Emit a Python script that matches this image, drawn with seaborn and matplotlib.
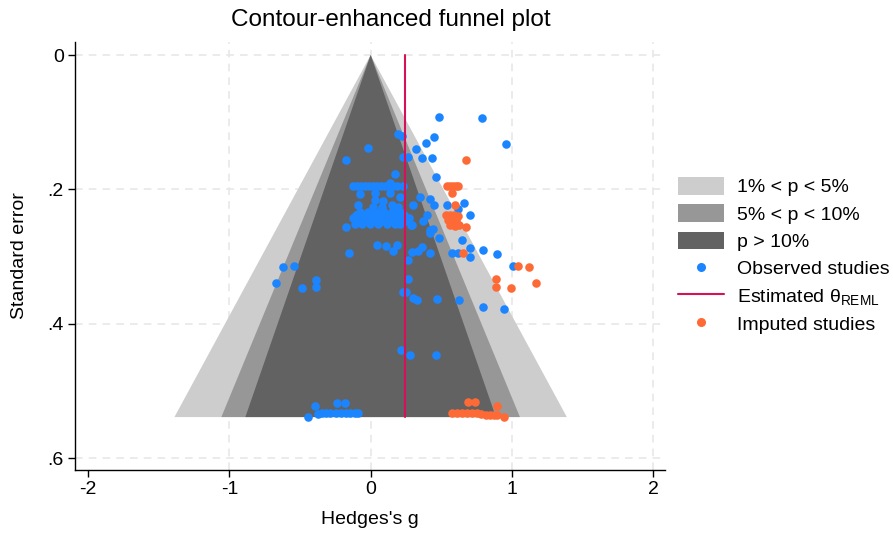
import numpy as np
import pandas as pd
import matplotlib
matplotlib.use("Agg")
import matplotlib.pyplot as plt
from matplotlib.patches import Patch
from matplotlib.lines import Line2D
import seaborn as sns

# Observed studies: effect size (Hedges's g) and standard error
obs_g = [
    0.485, 0.789, 0.959, 0.450, 0.393, 0.195, 0.223, -0.018, -0.173, 0.322,
    0.230, 0.265, 0.365, 0.435, 0.173, 0.464, 0.138, 0.230,
    -0.124, -0.096, -0.067, -0.039, -0.011, 0.018, 0.046, 0.074, 0.103, 0.131, 0.159, 0.188,
    -0.074, 0.032, 0.138, 0.209, 0.350, 0.032, 0.088,
    -0.088, 0.018, 0.081, 0.152, 0.195, 0.301,
    -0.074, -0.018, 0.039, 0.096, 0.152, 0.209,
    -0.103, -0.046, 0.011, 0.067, 0.124, 0.181, 0.237,
    -0.124, -0.067, -0.011, 0.046, 0.103, 0.159, 0.216, 0.273,
    -0.088, -0.032, 0.025, 0.081, 0.138, 0.195, 0.251,
    -0.110, -0.060, -0.004, 0.053, 0.117, 0.173, 0.209,
    -0.173, 0.294, 0.421,
    0.542, 0.662, 0.619, 0.704, 0.421, 0.450, 0.400, 0.372, 0.287, 0.442, 0.421, 0.485,
    0.648, 0.577, 0.619, 0.704, 0.704, 0.796, 0.896,
    0.046, 0.110, 0.188, 0.159, 0.294, 0.336, 0.365, 0.421, -0.152, 0.265, 1.009,
    0.265, 0.230, 0.251, 0.301, 0.329, 0.471, 0.627, 0.796, 0.945,
    -0.619, -0.542, -0.669, -0.485, -0.386, -0.386,
    0.216, 0.280, 0.464,
    -0.442, -0.393, -0.372, -0.343, -0.315, -0.287, -0.244, -0.209, -0.173, -0.145,
    -0.110, -0.088, -0.237, -0.181,
]
obs_se = [
    0.092, 0.094, 0.132, 0.122, 0.131, 0.118, 0.121, 0.138, 0.156, 0.140,
    0.152, 0.152, 0.153, 0.153, 0.177, 0.182, 0.191, 0.195,
    0.195, 0.195, 0.195, 0.195, 0.195, 0.195, 0.195, 0.195, 0.195, 0.195, 0.195, 0.195,
    0.207, 0.205, 0.205, 0.211, 0.211, 0.216, 0.217,
    0.223, 0.226, 0.226, 0.223, 0.226, 0.223,
    0.234, 0.234, 0.234, 0.234, 0.234, 0.234,
    0.238, 0.238, 0.238, 0.238, 0.238, 0.238, 0.238,
    0.243, 0.243, 0.243, 0.243, 0.243, 0.243, 0.243, 0.243,
    0.247, 0.247, 0.247, 0.247, 0.247, 0.247, 0.247,
    0.252, 0.252, 0.252, 0.252, 0.252, 0.252, 0.252,
    0.256, 0.253, 0.261,
    0.223, 0.220, 0.229, 0.238, 0.214, 0.223, 0.238, 0.247, 0.253, 0.259, 0.265, 0.272,
    0.275, 0.295, 0.295, 0.287, 0.301, 0.290, 0.296,
    0.283, 0.284, 0.283, 0.292, 0.293, 0.292, 0.286, 0.295, 0.295, 0.305, 0.314,
    0.333, 0.353, 0.353, 0.362, 0.365, 0.363, 0.365, 0.375, 0.378,
    0.316, 0.314, 0.339, 0.347, 0.335, 0.345,
    0.439, 0.447, 0.447,
    0.539, 0.523, 0.534, 0.533, 0.533, 0.533, 0.533, 0.533, 0.533, 0.533,
    0.533, 0.533, 0.518, 0.518,
]

# Studies imputed by trim-and-fill
imp_g = [
    0.676, 0.542, 0.563, 0.584, 0.605, 0.619, 0.577, 0.598,
    0.535, 0.563, 0.591, 0.619, 0.549, 0.577, 0.605, 0.563, 0.598, 0.627, 0.676,
    0.655, 1.044, 1.122, 0.888, 0.888, 0.995, 1.172,
    0.577, 0.612, 0.648, 0.683, 0.718, 0.754, 0.782, 0.818, 0.846, 0.874, 0.896,
    0.945, 0.690, 0.740, 0.896,
]
imp_se = [
    0.156, 0.195, 0.195, 0.195, 0.195, 0.195, 0.205, 0.223,
    0.238, 0.238, 0.238, 0.240, 0.246, 0.247, 0.246, 0.253, 0.255, 0.253, 0.256,
    0.295, 0.314, 0.316, 0.333, 0.345, 0.347, 0.339,
    0.533, 0.533, 0.533, 0.533, 0.533, 0.533, 0.534, 0.536, 0.536, 0.536, 0.536,
    0.539, 0.517, 0.517, 0.523,
]

theta_reml = 0.244

# Significance contours (two-sided z critical values) and their shading
contour_z = [2.576, 1.960, 1.645]
contour_colors = ["#cdcdcd", "#979797", "#626262"]
contour_labels = ["1% < p < 5%", "5% < p < 10%", "p > 10%"]

x_ticks = [-2, -1, 0, 1, 2]
x_ticklabels = ["-2", "-1", "0", "1", "2"]
y_ticks = [0, 0.2, 0.4, 0.6]
y_ticklabels = ["0", ".2", ".4", ".6"]

blue = "#1a85ff"
orange = "#fe6a35"
crimson = "#d41159"

sns.set_theme(style="white")
plt.rcParams["font.family"] = ["Liberation Sans", "DejaVu Sans"]
plt.rcParams["mathtext.fontset"] = "custom"
plt.rcParams["mathtext.rm"] = "Liberation Sans"
plt.rcParams["mathtext.it"] = "Liberation Sans:italic"
plt.rcParams["text.color"] = "black"
plt.rcParams["axes.labelcolor"] = "black"
plt.rcParams["xtick.color"] = "black"
plt.rcParams["ytick.color"] = "black"

obs = pd.DataFrame({"g": obs_g, "se": obs_se})
imp = pd.DataFrame({"g": imp_g, "se": imp_se})
se_max = max(obs["se"].max(), imp["se"].max())

fig = plt.figure(figsize=(8.93, 5.35), dpi=100)
ax = fig.add_axes([0.084, 0.1215, 0.661, 0.8])

# dashed grid
grid_kw = dict(color="#e6e6e6", lw=1.1, dashes=(5, 4), zorder=0)
for xv in [-1, 0, 1, 2]:
    ax.axvline(xv, **grid_kw)
for yv in y_ticks:
    ax.axhline(yv, **grid_kw)

# funnel contours
for z, col in zip(contour_z, contour_colors):
    ax.fill([0, -z * se_max, z * se_max], [0, se_max, se_max],
            color=col, lw=0, zorder=1)

sns.scatterplot(data=obs, x="g", y="se", color=blue, s=38, linewidth=0,
                ax=ax, legend=False, zorder=3)
sns.scatterplot(data=imp, x="g", y="se", color=orange, s=38, linewidth=0,
                ax=ax, legend=False, zorder=3)
ax.plot([theta_reml, theta_reml], [0, se_max], color=crimson, lw=1.5, zorder=4)

ax.set_xlim(-2.092, 2.085)
ax.set_ylim(0.6178, -0.0194)
ax.set_xticks(x_ticks)
ax.set_xticklabels(x_ticklabels)
ax.set_yticks(y_ticks)
ax.set_yticklabels(y_ticklabels)
ax.tick_params(axis="both", direction="out", length=5, width=1, color="black",
               labelsize=14, labelcolor="black", pad=3, left=True, bottom=True)
ax.set_xlabel("")
ax.set_ylabel("")
for side in ["top", "right"]:
    ax.spines[side].set_visible(False)
for side in ["left", "bottom"]:
    ax.spines[side].set_color("black")
    ax.spines[side].set_linewidth(1)
ax.set_facecolor("white")

fig.text(0.438, 0.963, "Contour-enhanced funnel plot", ha="center", va="center",
         fontsize=17.5, color="black")
fig.text(370 / 893, 1 - 519 / 535, "Hedges's g", ha="center", va="center",
         fontsize=14, color="black")
fig.text(20 / 893, 1 - 256 / 535, "Standard error", ha="center", va="center",
         rotation=90, fontsize=14, color="black")

handles = [Patch(facecolor=c, edgecolor="none") for c in contour_colors]
handles += [
    Line2D([], [], marker="o", ls="none", color=blue, markersize=6.5, markeredgewidth=0),
    Line2D([], [], color=crimson, lw=1.5),
    Line2D([], [], marker="o", ls="none", color=orange, markersize=6.5, markeredgewidth=0),
]
labels = contour_labels + ["Observed studies", "Estimated θ$_{\\mathrm{REML}}$",
                           "Imputed studies"]
fig.legend(handles, labels, loc="center left", bbox_to_anchor=(0.759, 0.5224),
           frameon=False, fontsize=14, handlelength=2.37, handleheight=1.03,
           handletextpad=0.67, labelspacing=0.4, borderpad=0, borderaxespad=0,
           labelcolor="black")

fig.savefig("out.png", dpi=100, facecolor="white")
